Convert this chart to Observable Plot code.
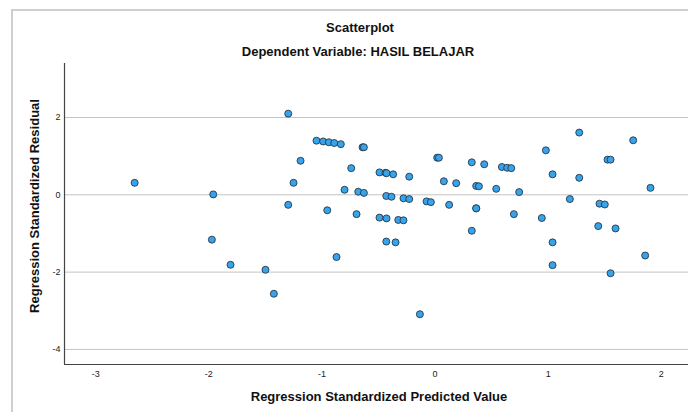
<!DOCTYPE html>
<html>
<head>
<meta charset="utf-8">
<script src="https://cdn.jsdelivr.net/npm/d3@7"></script>
<script src="https://cdn.jsdelivr.net/npm/@observablehq/plot@0.6"></script>
<style>
  html, body { margin: 0; padding: 0; background: #fff; }
  #wrap { position: relative; width: 688px; height: 412px; overflow: hidden; background: #fff;
          font-family: "Liberation Sans", Arial, sans-serif; }
  #frame { position: absolute; left: 11px; top: 9px; width: 800px; height: 500px;
           border-left: 2px solid #cfcfcf; border-top: 2px solid #cfcfcf; box-sizing: border-box; }
  .t { position: absolute; text-align: center; font-weight: bold; color: #111; white-space: nowrap; }
  #chart { position: absolute; left: 0; top: 0; }
</style>
</head>
<body>
<div id="wrap">
  <div id="frame"></div>
  <div id="chart"></div>
  <div class="t" style="left:160px;width:400px;top:20px;line-height:16px;font-size:13px;">Scatterplot</div>
  <div class="t" style="left:158px;width:400px;top:44px;line-height:16px;font-size:13px;">Dependent Variable: HASIL BELAJAR</div>
  <div class="t" style="left:179px;width:400px;top:389px;line-height:16px;font-size:13px;">Regression Standardized Predicted Value</div>
  <div class="t" style="left:-165px;width:400px;top:198px;line-height:16px;font-size:13px;transform:rotate(-90deg);transform-origin:200px 8px;">Regression Standardized Residual</div>
</div>
<script>
const predicted = [
  -2.656, -1.961,
  -1.298, -1.048, -0.989, -0.939, -0.891, -0.833, -0.641, -0.629, -1.189, -0.741,
  -0.491, -0.438, -0.429, -0.370, -0.228, 0.019, 0.034, 0.325, 0.435, -1.251,
  -0.800, -0.679, -0.629, 0.078, 0.187, 0.364, 0.388, -1.298, -0.953, -0.694,
  -0.431, -0.385, -0.279, -0.228, -0.075, -0.037, 0.125, 0.364, 0.364, -0.491,
  -0.429, -0.325, -0.279,
  1.275, 1.752, 0.980, 1.525, 1.552, 0.591, 0.638, 0.674, 1.039, 1.275, 0.541,
  0.744, 1.905, 1.192, 1.454, 1.501, 0.697, 0.944,
  -1.973, -1.808, -1.499, -1.425,
  -0.431, -0.349, -0.871, -0.134, 0.325,
  1.443, 1.596, 1.039, 1.039, 1.858, 1.552
];
const residual = [
  0.31, 0.01,
  2.10, 1.40, 1.38, 1.36, 1.34, 1.31, 1.23, 1.23, 0.88, 0.69,
  0.58, 0.57, 0.56, 0.53, 0.47, 0.96, 0.96, 0.84, 0.79, 0.31,
  0.13, 0.08, 0.05, 0.35, 0.30, 0.23, 0.22, -0.26, -0.40, -0.50,
  -0.03, -0.05, -0.09, -0.11, -0.17, -0.19, -0.26, -0.35, -0.35, -0.59,
  -0.61, -0.65, -0.66,
  1.61, 1.41, 1.15, 0.91, 0.91, 0.72, 0.70, 0.69, 0.53, 0.44, 0.155,
  0.07, 0.18, -0.11, -0.23, -0.25, -0.50, -0.60,
  -1.16, -1.81, -1.94, -2.56,
  -1.21, -1.23, -1.61, -3.09, -0.93,
  -0.81, -0.87, -1.23, -1.82, -1.57, -2.03
];
const xTicks = [-3, -2, -1, 0, 1, 2];
const yTicks = [2, 0, -2, -4];
const xDomain = [-3.276, 2.241];
const yDomain = [-4.39, 3.397];

const points = predicted.map((x, i) => ({x, y: residual[i]}));

const chart = Plot.plot({
  width: 688,
  height: 412,
  marginLeft: 64,
  marginRight: 0,
  marginTop: 63,
  marginBottom: 48,
  style: {fontFamily: "'Liberation Sans', Arial, sans-serif", fontSize: "9px", color: "#222", background: "transparent", overflow: "visible"},
  x: {domain: xDomain, ticks: xTicks, tickSize: 0, tickPadding: 6, tickFormat: d => String(d), label: null},
  y: {domain: yDomain, ticks: yTicks, tickSize: 0, tickPadding: 4, tickFormat: d => String(d), label: null},
  marks: [
    Plot.ruleY(yTicks, {stroke: "#c4c4c4", strokeWidth: 1}),
    Plot.ruleX([xDomain[0]], {stroke: "#444", strokeWidth: 1.2}),
    Plot.ruleY([yDomain[0]], {stroke: "#444", strokeWidth: 1.2}),
    Plot.dot(points, {x: "x", y: "y", r: 3.5, fill: "#36a3ea", stroke: "#27384a", strokeWidth: 0.9})
  ]
});
document.getElementById("chart").appendChild(chart);
</script>
</body>
</html>
